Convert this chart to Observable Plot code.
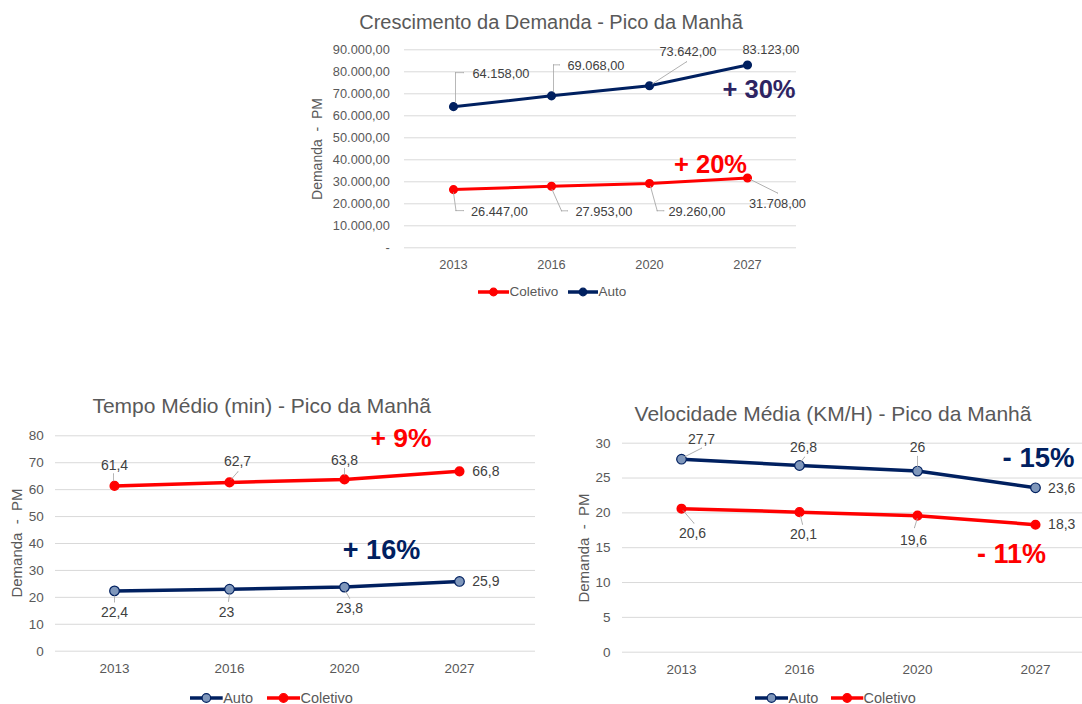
<!DOCTYPE html>
<html><head><meta charset="utf-8">
<script src="https://cdn.jsdelivr.net/npm/d3@7"></script>
<script src="https://cdn.jsdelivr.net/npm/@observablehq/plot@0.6"></script>
<style>
html,body{margin:0;padding:0;background:#fff;}
body{width:1082px;height:704px;overflow:hidden;position:relative;font-family:"Liberation Sans",Arial,sans-serif;}
.box{position:absolute;}
.txt{position:absolute;color:#595959;white-space:nowrap;line-height:1;}
.title{transform:translate(-50%,-50%);}
.ytitle{transform:translate(-50%,-50%) rotate(-90deg);}
.leg{transform:translateY(-50%);}
</style></head><body>
<script>
// ---------- data ----------
const years = ["2013", "2016", "2020", "2027"];
const demandaColetivo = [26447, 27953, 29260, 31708];
const demandaAuto = [64158, 69068, 73642, 83123];
const tempoAuto = [22.4, 23, 23.8, 25.9];
const tempoColetivo = [61.4, 62.7, 63.8, 66.8];
const velocidadeAuto = [27.7, 26.8, 26, 23.6];
const velocidadeColetivo = [20.6, 20.1, 19.6, 18.3];
const demandaTicks = [0, 10000, 20000, 30000, 40000, 50000, 60000, 70000, 80000, 90000];
const tempoTicks = [0, 10, 20, 30, 40, 50, 60, 70, 80];
const velocidadeTicks = [0, 5, 10, 15, 20, 25, 30];
const titles = ["Crescimento da Demanda - Pico da Manhã", "Tempo Médio (min) - Pico da Manhã", "Velocidade Média (KM/H) - Pico da Manhã"];
const yTitle = "Demanda\u00a0\u00a0-\u00a0\u00a0PM";

// ---------- helpers ----------
const NAVY = "#002060", RED = "#FF0000", AUTO_FILL = "#7F97BB", LEADER = "#A6A6A6", LABEL = "#404040";
const ptBR = d3.formatLocale({decimal: ",", thousands: ".", grouping: [3], currency: ["R$", ""]});
const fmtDem = ptBR.format(",.2f");
const fmtDemTick = v => v === 0 ? "-" : fmtDem(v);
const fmtDec = v => String(v).replace(".", ",");
const toRows = vals => years.map((year, i) => ({year, value: vals[i]}));
const pct = vals => {
  const p = Math.round((vals[vals.length - 1] / vals[0] - 1) * 100);
  return (p >= 0 ? "+ " : "- ") + Math.abs(p) + "%";
};

function seg(row, a, b) {
  const ddx = b[0] - a[0], ddy = b[1] - a[1];
  return Plot.vector([row], {x: "year", y: "value", dx: a[0], dy: a[1],
    length: Math.hypot(ddx, ddy), rotate: Math.atan2(ddx, -ddy) * 180 / Math.PI,
    anchor: "start", stroke: LEADER, strokeWidth: 0.8, r: 0});
}
function label(row, fmt, fontSize, o) {
  const marks = [Plot.text([row], {x: "year", y: "value", text: d => fmt(d.value), dx: o.dx, dy: o.dy,
    textAnchor: o.anchor || "middle", fill: LABEL, fontSize})];
  for (const [a, b] of (o.leader || [])) marks.push(seg(row, a, b));
  return marks;
}
function pctMark(rows, vals, color, fontSize, dx, dy) {
  const last = rows[rows.length - 1];
  return Plot.text([last], {x: "year", y: "value", text: () => pct(vals), dx, dy, fill: color,
    fontWeight: "bold", fontSize, textAnchor: "middle"});
}

function addDiv(cls, text, css) {
  const d = document.createElement("div");
  d.className = "txt " + cls;
  d.textContent = text;
  Object.assign(d.style, css);
  document.body.appendChild(d);
}
function addLegend(items, cy, fontSize) {
  for (const it of items) {
    const w = it.x1 - it.x0;
    const s = document.createElementNS("http://www.w3.org/2000/svg", "svg");
    s.setAttribute("width", w + 10); s.setAttribute("height", 14);
    s.style.position = "absolute"; s.style.left = (it.x0 - 5) + "px"; s.style.top = (cy - 7) + "px";
    s.innerHTML = `<line x1="5" x2="${w + 5}" y1="7" y2="7" stroke="${it.color}" stroke-width="3.5"/>` +
      `<circle cx="${w / 2 + 5}" cy="7" r="${it.r}" fill="${it.fill}" stroke="${it.color}" stroke-width="1.2"/>`;
    document.body.appendChild(s);
    addDiv("leg", it.text, {left: (it.x1 + 0.5) + "px", top: cy + "px", fontSize: fontSize + "px"});
  }
}

function place(plot, left, top) {
  plot.style.position = "absolute";
  plot.style.left = left + "px";
  plot.style.top = top + "px";
  document.body.appendChild(plot);
}

// ---------- chart 1: demanda ----------
{
  const col = toRows(demandaColetivo), auto = toRows(demandaAuto);
  const fs = 12.8;
  const p = Plot.plot({
    width: 540, height: 256,
    marginLeft: 114, marginRight: 34, marginTop: 21.3, marginBottom: 36.7,
    style: {fontFamily: "'Liberation Sans', Arial, sans-serif", fontSize: fs + "px", color: "#595959", background: "transparent", overflow: "visible"},
    x: {type: "point", domain: years, padding: 0.5},
    y: {domain: [0, 90000]},
    marks: [
      Plot.gridY({ticks: demandaTicks, stroke: "#D9D9D9", strokeOpacity: 1, strokeWidth: 1}),
      Plot.axisY({ticks: demandaTicks, tickFormat: fmtDemTick, tickSize: 0, tickPadding: 14.7, label: null}),
      Plot.axisX({tickSize: 0, tickPadding: 12, label: null}),
      Plot.line(col, {x: "year", y: "value", stroke: RED, strokeWidth: 3}),
      Plot.line(auto, {x: "year", y: "value", stroke: NAVY, strokeWidth: 3}),
      Plot.dot(col, {x: "year", y: "value", r: 3.8, fill: RED, stroke: RED}),
      Plot.dot(auto, {x: "year", y: "value", r: 3.8, fill: NAVY, stroke: NAVY}),
      ...label(auto[0], fmtDem, fs, {dx: 19, dy: -33, anchor: "start", leader: [[2, -4], [2, -34]].length ? [[[2, -4], [2, -34]], [[2, -34], [10, -34]]] : []}),
      ...label(auto[1], fmtDem, fs, {dx: 16, dy: -30, anchor: "start", leader: [[[2, -4], [2, -31]], [[2, -31], [8, -31]]]}),
      ...label(auto[2], fmtDem, fs, {dx: 10, dy: -34, anchor: "start", leader: [[[3, -2], [37, -24]]]}),
      ...label(auto[3], fmtDem, fs, {dx: -5, dy: -15, anchor: "start"}),
      ...label(col[0], fmtDem, fs, {dx: 17.4, dy: 22.4, anchor: "start", leader: [[[0, 3], [2.5, 21]], [[2.5, 21], [10, 21]]]}),
      ...label(col[1], fmtDem, fs, {dx: 24, dy: 26, anchor: "start", leader: [[[0.5, 3], [10, 24.5]], [[10, 24.5], [16, 24.5]]]}),
      ...label(col[2], fmtDem, fs, {dx: 19, dy: 28.3, anchor: "start", leader: [[[1, 3], [7.7, 27.3]], [[7.7, 27.3], [14.3, 27.3]]]}),
      ...label(col[3], fmtDem, fs, {dx: 1.5, dy: 25.6, anchor: "start", leader: [[[3, 1.5], [30, 15]]]}),
      pctMark(auto, demandaAuto, "#2E2462", 25.5, 11.5, 24.5),
      pctMark(col, demandaColetivo, RED, 25.5, -37, -13.7)
    ]
  });
  place(p, 290, 28);
  addDiv("title", titles[0], {left: "551px", top: "21.7px", fontSize: "20px"});
  addDiv("ytitle", yTitle, {left: "316.7px", top: "149px", fontSize: "14px"});
  addLegend([
    {x0: 478, x1: 509, color: RED, fill: RED, r: 3.8, text: "Coletivo"},
    {x0: 568, x1: 598, color: NAVY, fill: NAVY, r: 3.8, text: "Auto"}
  ], 291.7, 13.5);
}

// ---------- chart 2: tempo ----------
{
  const col = toRows(tempoColetivo), auto = toRows(tempoAuto);
  const fs = 14;
  const p = Plot.plot({
    width: 550, height: 262,
    marginLeft: 55, marginRight: 15, marginTop: 15.3, marginBottom: 31.3,
    style: {fontFamily: "'Liberation Sans', Arial, sans-serif", fontSize: "13.5px", color: "#595959", background: "transparent", overflow: "visible"},
    x: {type: "point", domain: years, padding: 0.5, insetRight: 16.5},
    y: {domain: [0, 80]},
    marks: [
      Plot.gridY({ticks: tempoTicks, stroke: "#D9D9D9", strokeOpacity: 1, strokeWidth: 1}),
      Plot.axisY({ticks: tempoTicks, tickSize: 0, tickPadding: 11.7, label: null}),
      Plot.axisX({tickSize: 0, tickPadding: 12, label: null}),
      Plot.line(auto, {x: "year", y: "value", stroke: NAVY, strokeWidth: 3.5}),
      Plot.line(col, {x: "year", y: "value", stroke: RED, strokeWidth: 3.5}),
      Plot.dot(auto, {x: "year", y: "value", r: 4.8, fill: AUTO_FILL, stroke: NAVY, strokeWidth: 1.2}),
      Plot.dot(col, {x: "year", y: "value", r: 4.3, fill: RED, stroke: RED}),
      ...label(col[0], fmtDec, fs, {dx: 0, dy: -20.5, leader: [[[-1, -5], [-1, -12]]]}),
      ...label(col[1], fmtDec, fs, {dx: 8, dy: -21, leader: [[[1.7, -3], [8.3, -10.5]]]}),
      ...label(col[2], fmtDec, fs, {dx: 0, dy: -19, leader: [[[0, -4.5], [0, -11]]]}),
      ...label(col[3], fmtDec, fs, {dx: 12.7, dy: 0, anchor: "start"}),
      ...label(auto[0], fmtDec, fs, {dx: 0, dy: 21.3, leader: [[[0, 5], [0, 11]]]}),
      ...label(auto[1], fmtDec, fs, {dx: -3, dy: 23.3, leader: [[[0, 5], [-1, 12]]]}),
      ...label(auto[2], fmtDec, fs, {dx: 5, dy: 21.7, leader: [[[1, 4], [5, 11]]]}),
      ...label(auto[3], fmtDec, fs, {dx: 12.7, dy: 0, anchor: "start"}),
      pctMark(col, tempoColetivo, RED, 26.5, -58.5, -33),
      pctMark(auto, tempoAuto, NAVY, 27, -78, -31)
    ]
  });
  place(p, 0, 420);
  addDiv("title", titles[1], {left: "261.7px", top: "405px", fontSize: "21px"});
  addDiv("ytitle", yTitle, {left: "16px", top: "543px", fontSize: "15px"});
  addLegend([
    {x0: 190, x1: 222.7, color: NAVY, fill: AUTO_FILL, r: 4.3, text: "Auto"},
    {x0: 267, x1: 300, color: RED, fill: RED, r: 4.3, text: "Coletivo"}
  ], 698.3, 14.5);
}

// ---------- chart 3: velocidade ----------
{
  const col = toRows(velocidadeColetivo), auto = toRows(velocidadeAuto);
  const fs = 14;
  const p = Plot.plot({
    width: 530, height: 254,
    marginLeft: 52, marginRight: 5.3, marginTop: 14.7, marginBottom: 30.3,
    style: {fontFamily: "'Liberation Sans', Arial, sans-serif", fontSize: "13.5px", color: "#595959", background: "transparent", overflow: "visible"},
    x: {type: "point", domain: years, padding: 0.5},
    y: {domain: [0, 30]},
    marks: [
      Plot.gridY({ticks: velocidadeTicks, stroke: "#D9D9D9", strokeOpacity: 1, strokeWidth: 1}),
      Plot.axisY({ticks: velocidadeTicks, tickSize: 0, tickPadding: 12, label: null}),
      Plot.axisX({tickSize: 0, tickPadding: 12, label: null}),
      Plot.line(auto, {x: "year", y: "value", stroke: NAVY, strokeWidth: 3.5}),
      Plot.line(col, {x: "year", y: "value", stroke: RED, strokeWidth: 3.5}),
      Plot.dot(auto, {x: "year", y: "value", r: 4.8, fill: AUTO_FILL, stroke: NAVY, strokeWidth: 1.2}),
      Plot.dot(col, {x: "year", y: "value", r: 4.3, fill: RED, stroke: RED}),
      ...label(auto[0], fmtDec, fs, {dx: 20, dy: -20, leader: [[[2.3, -2], [20, -11]]]}),
      ...label(auto[1], fmtDec, fs, {dx: 4, dy: -18.3, leader: [[[1, -3.3], [5, -8.3]]]}),
      ...label(auto[2], fmtDec, fs, {dx: 0, dy: -24, leader: [[[0, -4], [0, -14.7]]]}),
      ...label(auto[3], fmtDec, fs, {dx: 12.6, dy: 0.5, anchor: "start"}),
      ...label(col[0], fmtDec, fs, {dx: 11, dy: 25, leader: [[[1.7, 2], [12.3, 14.3]]]}),
      ...label(col[1], fmtDec, fs, {dx: 4, dy: 22, leader: [[[1, 4], [3, 12]]]}),
      ...label(col[2], fmtDec, fs, {dx: -4, dy: 25, leader: [[[-0.3, 3], [-3, 12]]]}),
      ...label(col[3], fmtDec, fs, {dx: 12.6, dy: 0, anchor: "start"}),
      pctMark(auto, velocidadeAuto, NAVY, 27.5, 3, -30),
      pctMark(col, velocidadeColetivo, RED, 27, -24, 30)
    ]
  });
  place(p, 570, 428);
  addDiv("title", titles[2], {left: "833px", top: "412.7px", fontSize: "21px"});
  addDiv("ytitle", yTitle, {left: "582.7px", top: "548px", fontSize: "15px"});
  addLegend([
    {x0: 755, x1: 788, color: NAVY, fill: AUTO_FILL, r: 4.3, text: "Auto"},
    {x0: 830.7, x1: 863, color: RED, fill: RED, r: 4.3, text: "Coletivo"}
  ], 698, 14.5);
}
</script>
</body></html>
